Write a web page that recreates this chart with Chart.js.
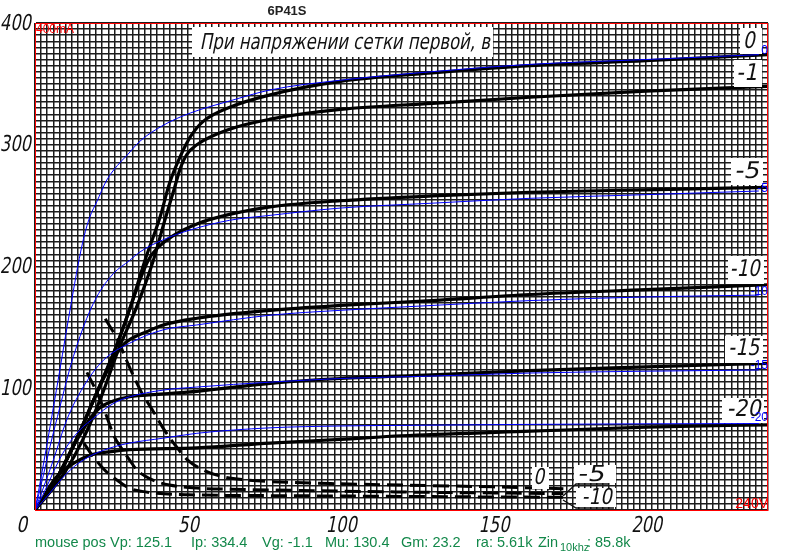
<!DOCTYPE html>
<html>
<head>
<meta charset="utf-8">
<script src="https://cdn.jsdelivr.net/npm/chart.js@4.4.1/dist/chart.umd.min.js"></script>
<style>
  html, body { margin: 0; padding: 0; background: #fff; }
  #wrap { width: 805px; height: 559px; }
</style>
</head>
<body>
<div id="wrap"><canvas id="curves" width="805" height="559"></canvas></div>
<script>
// 6P41S plate curves, datasheet (black) vs model (blue)

// tick labels
const xTickLabels = [0, 50, 100, 150, 200]
const yTickLabels = [100, 200, 300, 400]

// grid voltages for the curve labels
const sheetGrid = ["0", "-1", "-5", "-10", "-15", "-20"]
const modelGrid = ["0", "-5", "-10", "-15", "-20"]
const screenGrid = ["0", "-5", "-10"]

// datasheet plate current [Vp, Ia]
const sheet0 = [[0, 0], [4, 14], [8, 30], [13, 55], [20, 95], [27, 137], [31, 165], [36, 205], [41, 241], [44, 268], [47.5, 290], [51, 307], [55, 319], [64, 331], [77, 341], [100, 352], [130, 359], [162, 365], [200, 369], [240, 374]]
const sheet1 = [[0, 0], [5, 15], [10, 32], [15.5, 57], [22, 95], [27.5, 133], [33, 165], [38.5, 203], [42.5, 238], [45.5, 263], [47.5, 280], [49.7, 292], [53, 300], [64, 313], [77, 321], [100, 329], [130, 334], [162, 339], [200, 344], [240, 348]]
const sheet5 = [[0, 0], [4, 14], [8, 30], [13, 55], [20, 95], [27, 137], [31, 165], [35, 193], [37.5, 207], [40, 215], [45, 225], [53, 235], [64, 243], [77, 249], [100, 254], [130, 258], [162, 261], [200, 263], [240, 265]]
const sheet10 = [[0, 0], [4, 14], [8, 30], [13, 55], [20, 95], [24, 116], [26.5, 128], [29, 136], [31, 140], [36.6, 146.5], [42, 152], [53, 157.5], [77, 164], [100, 168], [130, 172], [162, 177], [200, 181], [240, 185]]
const sheet15 = [[0, 0], [4, 14], [8, 30], [12.5, 52], [16, 67], [18, 75], [20, 81], [22, 85.5], [25.6, 89.5], [31, 93], [40, 95], [53, 97.5], [77, 104], [100, 108], [130, 111], [162, 114.5], [200, 117.5], [240, 120.5]]
const sheet20 = [[0, 0], [3, 11], [5, 20], [7, 27], [10, 34], [13, 39], [18, 45], [25, 48], [31, 49.5], [53, 51], [77, 55], [100, 58], [120, 61], [160, 64.5], [200, 68], [240, 70]]

// datasheet screen current (dashed) [Vp, Ig2]
const screen0 = [[23, 157], [27, 140], [31, 117], [35, 96], [38.5, 82], [42, 67], [46, 53], [50, 41], [55, 33], [62, 27], [70, 24.5], [80, 23], [100, 21.5], [130, 20], [150, 19], [173, 17.5]]
const screen5 = [[17, 113], [20, 98], [23, 80], [26, 60], [28.5, 50], [31, 41], [33.3, 33], [36, 28], [39.8, 23.3], [44, 20.5], [53, 18], [64, 17], [77, 16.5], [100, 15.5], [130, 14.5], [150, 14], [173, 13.5]]
const screen10 = [[16, 55], [19, 44], [21.8, 35.6], [24, 30], [26.8, 24.6], [31, 17.8], [35, 15.3], [39.8, 13.7], [50, 12.5], [77, 11.8], [100, 11.5], [130, 11], [150, 10.7], [173, 10.5]]

// model plate current [Vp, Ia]
const model0 = [[0, 0], [2, 27], [4, 55], [6, 84], [8, 113], [10, 143], [12, 172], [14, 200], [16, 224], [18, 241], [20.2, 253], [23.5, 271], [27, 283], [30, 291], [34.4, 303], [42, 316], [50.8, 326], [63.8, 336], [77, 345], [100, 353], [130, 360], [162, 366], [200, 370], [237, 374]]
const model5 = [[0, 0], [2.5, 26], [4.9, 52], [8.2, 85], [11.5, 117], [15.8, 150], [20.2, 175], [25.6, 194], [31, 205], [34.4, 212], [42, 222], [50.8, 230], [63.8, 238], [77, 242], [100, 248], [130, 252], [162, 256], [200, 259], [237, 262]]
const model10 = [[0, 0], [3, 20], [6, 41], [10.4, 74], [15.8, 101], [22.4, 123], [31, 137], [42, 148], [53, 152], [77, 160], [100, 164], [130, 168], [162, 172], [200, 175], [237, 176.5]]
const model15 = [[0, 0], [2.5, 12], [4.9, 25], [7.5, 39], [10.4, 52], [13, 61], [15.8, 68.5], [18.5, 74], [22.4, 82], [26, 88], [31, 93], [42, 98.5], [53, 101], [77, 105], [100, 108], [130, 110], [162, 112.5], [200, 114], [237, 115]]
const model20 = [[0, 0], [2.5, 7], [4.9, 14], [7.5, 22], [10.4, 30], [13, 36], [15.8, 41], [19, 45.5], [22.4, 49], [26, 52], [31, 55], [42, 59], [53, 63], [77, 67.5], [100, 69], [120, 69.5], [160, 70.3], [200, 70.8], [237, 71]]

const sheetCurves = [sheet0, sheet1, sheet5, sheet10, sheet15, sheet20]
const screenCurves = [screen0, screen5, screen10]
const modelCurves = [model0, model5, model10, model15, model20]

const scanFont = "'DejaVu Sans Condensed', 'DejaVu Sans', sans-serif"

function toPoints(pairs) {
  return pairs.map(([x, y]) => ({ x, y }))
}

// hand-lettered look: slanted text squeezed to a given width
function fitText(ctx, text, cx, cy, w, font, color) {
  ctx.save()
  ctx.font = font
  ctx.fillStyle = color
  ctx.textAlign = "center"
  ctx.textBaseline = "middle"
  const m = ctx.measureText(text).width
  ctx.translate(cx, cy)
  ctx.transform(1, 0, -0.2, 1, 0, 0)
  ctx.scale(w / m, 1)
  ctx.fillText(text, 0, 0)
  ctx.restore()
}

const datasets = []
modelCurves.forEach((c, i) => {
  datasets.push({
    label: "model " + modelGrid[i],
    data: toPoints(c),
    borderColor: "#0000ff",
    borderWidth: 1,
    pointRadius: 0,
    cubicInterpolationMode: "monotone",
  })
})
sheetCurves.forEach((c, i) => {
  datasets.push({
    label: "sheet " + sheetGrid[i],
    data: toPoints(c),
    borderColor: "#000",
    borderWidth: 3.2,
    pointRadius: 0,
    cubicInterpolationMode: "monotone",
  })
})
screenCurves.forEach((c, i) => {
  datasets.push({
    label: "screen " + screenGrid[i],
    data: toPoints(c),
    borderColor: "#000",
    borderWidth: 3,
    borderDash: [16, 7],
    pointRadius: 0,
    cubicInterpolationMode: "monotone",
  })
})

const overlay = {
  id: "overlay",
  afterDatasetsDraw(chart) {
    const ctx = chart.ctx
    const a = chart.chartArea
    const sx = chart.scales.x
    const sy = chart.scales.y

    // red frame
    ctx.save()
    ctx.strokeStyle = "#ff0000"
    ctx.lineWidth = 1
    ctx.strokeRect(a.left + 0.5, a.top + 0.5, a.right - a.left - 1, a.bottom - a.top)
    ctx.restore()

    // axis numbers, lettered like the scan
    const tickFont = "22px " + scanFont
    xTickLabels.forEach((v) => {
      const t = String(v)
      const px = sx.getPixelForValue(v) + (v === 0 ? -12 : 2)
      fitText(ctx, t, px, a.bottom + 16, t.length * 10 + 1, tickFont, "#111")
    })
    yTickLabels.forEach((v) => {
      const t = String(v)
      const w = t.length * 10 + 1
      fitText(ctx, t, a.left - 3 - w / 2, sy.getPixelForValue(v) + 1, w, tickFont, "#111")
    })

    // white label boxes
    ctx.fillStyle = "#fff"
    ctx.fillRect(192, 27, 301, 30)
    const rightBoxes = [
      [sheetGrid[0], 740, 28, 22, 26, 750, 42, 12],
      [sheetGrid[1], 734, 60, 28, 27, 748, 74, 21],
      [sheetGrid[2], 731, 158, 32, 27, 748, 172, 25],
      [sheetGrid[3], 728, 256, 36, 28, 746, 270, 30],
      [sheetGrid[4], 725, 336, 38, 27, 745, 349, 31],
      [sheetGrid[5], 722, 398, 42, 25, 745, 410, 34],
    ]
    rightBoxes.forEach(([t, bx, by, bw, bh, cx, cy, w]) => {
      ctx.fillStyle = "#fff"
      ctx.fillRect(bx, by, bw, bh)
      fitText(ctx, t, cx, cy, w, "23px " + scanFont, "#111")
    })

    // bottom screen-curve labels
    ctx.fillStyle = "#fff"
    ctx.fillRect(532, 467, 17, 22)
    ctx.fillRect(574, 465, 42, 18)
    ctx.fillRect(576, 488, 40, 19)
    fitText(ctx, screenGrid[0], 540, 478, 11, "22px " + scanFont, "#111")
    fitText(ctx, screenGrid[1], 592, 475, 27, "22px " + scanFont, "#111")
    fitText(ctx, screenGrid[2], 598, 498, 30, "22px " + scanFont, "#111")
    ctx.save()
    ctx.strokeStyle = "#111"
    ctx.lineWidth = 1.3
    ctx.beginPath()
    ctx.moveTo(563, 496); ctx.lineTo(576, 484); ctx.lineTo(608, 484)
    ctx.moveTo(563, 500); ctx.lineTo(576, 508); ctx.lineTo(614, 508)
    ctx.stroke()
    ctx.restore()

    // heading
    fitText(ctx, "При напряжении сетки первой, в", 346, 43, 290, "22px " + scanFont, "#111")

    // blue model labels at the right end
    ctx.save()
    ctx.font = "12px 'Liberation Sans', Arial, sans-serif"
    ctx.fillStyle = "#0000ff"
    ctx.textAlign = "right"
    ctx.textBaseline = "middle"
    ctx.fillText(modelGrid[0], 768, 51)
    ctx.fillText(modelGrid[1], 768, 189)
    ctx.fillText(modelGrid[2], 768, 292)
    ctx.fillText(modelGrid[3], 768, 366)
    ctx.fillText(modelGrid[4], 768, 418)
    ctx.restore()

    // red range marks
    ctx.save()
    ctx.fillStyle = "#ff0000"
    ctx.textBaseline = "top"
    ctx.font = "12px 'Liberation Sans', Arial, sans-serif"
    ctx.textAlign = "left"
    ctx.fillText("400mA", 36, 24)
    ctx.font = "14px 'Liberation Sans', Arial, sans-serif"
    ctx.textAlign = "right"
    ctx.textBaseline = "bottom"
    ctx.fillText("240V", 768, 511)
    ctx.restore()

    // part number
    ctx.save()
    ctx.font = "bold 13px 'Liberation Sans', Arial, sans-serif"
    ctx.fillStyle = "#222"
    ctx.textAlign = "center"
    ctx.textBaseline = "middle"
    ctx.fillText("6P41S", 287, 11)
    ctx.restore()

    // status line
    ctx.save()
    ctx.font = "14.5px 'Liberation Sans', Arial, sans-serif"
    ctx.fillStyle = "#13884a"
    ctx.textBaseline = "alphabetic"
    ctx.textAlign = "left"
    const status = [
      ["mouse pos Vp: 125.1", 35],
      ["Ip: 334.4", 191],
      ["Vg: -1.1", 262],
      ["Mu: 130.4", 325],
      ["Gm: 23.2", 401],
      ["ra: 5.61k", 476],
      ["Zin", 538],
      [": 85.8k", 587],
    ]
    status.forEach(([t, x]) => ctx.fillText(t, x, 547))
    ctx.font = "11px 'Liberation Sans', Arial, sans-serif"
    ctx.fillText("10khz", 560, 551)
    ctx.restore()
  },
}

const ctx = document.getElementById("curves").getContext("2d")
new Chart(ctx, {
  type: "line",
  data: { datasets },
  options: {
    responsive: false,
    animation: false,
    devicePixelRatio: 1,
    layout: { padding: { left: 0, top: 23, right: 37, bottom: 0 } },
    plugins: {
      legend: { display: false },
      tooltip: { enabled: false },
    },
    scales: {
      x: {
        type: "linear",
        min: 0,
        max: 240,
        afterFit: (s) => { s.height = 49 },
        grid: { color: "#1c1c1c", lineWidth: 1.5, drawTicks: false },
        border: { color: "#ff0000", width: 1 },
        ticks: { stepSize: 2, autoSkip: false, display: false },
      },
      y: {
        type: "linear",
        min: 0,
        max: 400,
        afterFit: (s) => { s.width = 35 },
        grid: { color: "#1c1c1c", lineWidth: 1.5, drawTicks: false },
        border: { color: "#ff0000", width: 1 },
        ticks: { stepSize: 5, autoSkip: false, display: false },
      },
    },
  },
  plugins: [overlay],
})
</script>
</body>
</html>
